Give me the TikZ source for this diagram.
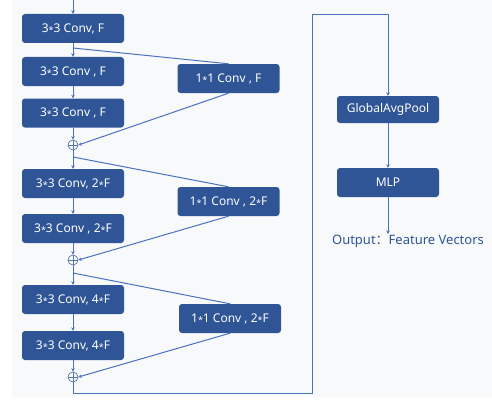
\documentclass[tikz,border=0pt]{standalone}
\usepackage{fontspec}
\setmainfont{Noto Sans}
\newfontfamily\cjkfont{Noto Sans CJK SC}
\usetikzlibrary{arrows.meta}
\definecolor{boxblue}{HTML}{2F5597}
\definecolor{lineblue}{HTML}{4A72C0}
\definecolor{bgc}{HTML}{F8F9FA}
\newcommand\mystar{\raisebox{-0.2ex}{\fontsize{9}{9}\selectfont *}}
\tikzset{
  blk/.style={rounded corners=3pt, fill=boxblue, text=white, minimum width=102pt,
    minimum height=29pt, inner sep=0pt, font=\fontsize{12}{14}\selectfont},
  sumnode/.style={circle, draw=boxblue!80!white, line width=0.7pt, minimum size=10pt, inner sep=0pt,
    path picture={\draw[boxblue!80!white, line width=0.7pt]
      (path picture bounding box.north) -- (path picture bounding box.south)
      (path picture bounding box.west) -- (path picture bounding box.east);}},
  conn/.style={draw=lineblue, line width=1pt},
  arr/.style={conn, -{Stealth[length=3.5pt,width=3.5pt]}}
}
\begin{document}
\begin{tikzpicture}[x=1pt,y=-1pt]
\useasboundingbox (0,0) rectangle (492,404);
\fill[white] (0,0) rectangle (492,404);
\fill[bgc] (12,0) rectangle (492,397);
% left column
\node[blk] (b1) at (73,28.5) {3\mystar3 Conv, F};
\node[blk] (b2) at (73,71.5) {3\mystar3 Conv , F};
\node[blk] (b3) at (73,113) {3\mystar3 Conv , F};
\node[sumnode] (c1) at (73,145) {};
\node[blk] (b4) at (73,183.5) {3\mystar3 Conv, 2\mystar F};
\node[blk] (b5) at (73,228.5) {3\mystar3 Conv , 2\mystar F};
\node[sumnode] (c2) at (73,260) {};
\node[blk] (b6) at (73,299.5) {3\mystar3 Conv, 4\mystar F};
\node[blk] (b7) at (73,345.5) {3\mystar3 Conv, 4\mystar F};
\node[sumnode] (c3) at (73,377) {};
% shortcut boxes
\node[blk] (r1) at (228.5,78.5) {1\mystar1 Conv , F};
\node[blk] (r2) at (228.5,201.5) {1\mystar1 Conv , 2\mystar F};
\node[blk] (r3) at (230,318.5) {1\mystar1 Conv , 2\mystar F};
% right column
\node[blk, minimum height=27pt] (g) at (388,109.5) {GlobalAvgPool};
\node[blk] (m) at (388,182.5) {MLP};
\node[text=boxblue, font=\fontsize{13}{15}\selectfont, anchor=north, inner sep=0pt] (out) at (408,235)
  {Output{\cjkfont ：}Feature Vectors};
% coordinates
\coordinate (in) at (73,0);
\coordinate (p1) at (73,48);
\coordinate (p2) at (73,157);
\coordinate (p3) at (73,273);
\coordinate (q1) at (73,393);
\coordinate (q2) at (312,393);
\coordinate (q3) at (312,15);
\coordinate (q4) at (388,15);
\coordinate (oe) at (388,234);
% main chain
\draw[arr] (in) -- (b1.north);
\draw[arr] (b1.south) -- (b2.north);
\draw[arr] (b2.south) -- (b3.north);
\draw[arr] (b3.south) -- (c1.north);
\draw[arr] (c1.south) -- (b4.north);
\draw[arr] (b4.south) -- (b5.north);
\draw[arr] (b5.south) -- (c2.north);
\draw[arr] (c2.south) -- (b6.north);
\draw[arr] (b6.south) -- (b7.north);
\draw[arr] (b7.south) -- (c3.north);
% shortcuts
\draw[conn] (p1) -- (r1.north);
\draw[arr] (r1.south) -- (c1.east);
\draw[conn] (p2) -- (r2.north);
\draw[arr] (r2.south) -- (c2.east);
\draw[conn] (p3) -- (r3.north);
\draw[arr] (r3.south) -- (c3.east);
% to head
\draw[arr] (c3.south) -- (q1) -- (q2) -- (q3) -- (q4) -- (g.north);
\draw[arr] (g.south) -- (m.north);
\draw[arr] (m.south) -- (oe);
\end{tikzpicture}
\end{document}
